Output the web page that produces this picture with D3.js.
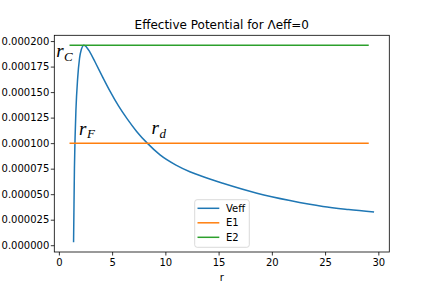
<html lang="en">
<head>
    <meta charset="UTF-8">
    <title>Effective Potential</title>
    <script src="https://d3js.org/d3.v7.min.js"></script>
    <style>
        body { margin: 0; background: #fff; }
        text { font-family: "DejaVu Sans", sans-serif; fill: #000; }
        .math { font-family: "Liberation Serif", serif; font-style: italic; }
    </style>
</head>
<body>
    <div id="chart"></div>
    <script>
        // values
        var r = [1.38, 1.42, 1.46, 1.52, 1.6, 1.76, 1.94, 2.1, 2.35, 2.6, 2.9, 3.4, 4.1, 4.8, 5.6, 6.4,
                 7.3, 8.3, 9.5, 11, 12.3, 13.3, 15.4, 18.6, 21.7, 24.8, 27.2, 29.6];
        var veff = [0.3e-5, 4.0e-5, 7.5e-5, 10.5e-5, 13.2e-5, 16.3e-5, 18.3e-5, 19.15e-5, 19.6e-5, 19.4e-5,
                    18.95e-5, 17.95e-5, 16.5e-5, 15.1e-5, 13.65e-5, 12.4e-5, 11.15e-5, 10.0e-5, 8.85e-5, 7.85e-5,
                    7.2e-5, 6.8e-5, 6.07e-5, 5.1e-5, 4.38e-5, 3.8e-5, 3.5e-5, 3.25e-5];
        var eR = [1.0, 29.1];
        var e1 = [0.0001, 0.0001];
        var e2 = [0.000196, 0.000196];
        var xTicks = [0, 5, 10, 15, 20, 25, 30];
        var yTicks = [0, 0.000025, 0.00005, 0.000075, 0.0001, 0.000125, 0.00015, 0.000175, 0.0002];
        var labels = [{main: "r", sub: "C", x: -0.25, y: 0.000184},
                      {main: "r", sub: "F", x: 1.9, y: 0.000108},
                      {main: "r", sub: "d", x: 8.7, y: 0.0001085}];

        var width = 432, height = 288;
        var padLeft = 54.3, padRight = 389.3, padTop = 35.3, padBottom = 252;
        var svg, x, y;

        function initChart(){
            svg = d3.select("#chart").append("svg")
                .attr("width", width)
                .attr("height", height);

            // 5% margins like matplotlib autoscale
            var allX = r.concat(eR), allY = veff.concat(e1, e2);
            var x0 = d3.min(allX), x1 = d3.max(allX), y0 = d3.min(allY), y1 = d3.max(allY);
            var dx = (x1 - x0) * 0.05, dy = (y1 - y0) * 0.05;
            x = d3.scaleLinear().domain([x0 - dx, x1 + dx]).range([padLeft, padRight]);
            y = d3.scaleLinear().domain([y0 - dy, y1 + dy]).range([padBottom, padTop]);
        }

        function drawAxes(){
            var xAxis = d3.axisBottom(x).tickValues(xTicks).tickSize(3.5).tickPadding(3.5);
            var yAxis = d3.axisLeft(y).tickValues(yTicks).tickSize(3.5).tickPadding(1.5)
                .tickFormat(d3.format(".6f"));

            var gx = svg.append("g").attr("transform", "translate(0," + padBottom + ")").call(xAxis);
            var gy = svg.append("g").attr("transform", "translate(" + padLeft + ",0)").call(yAxis);
            [gx, gy].forEach(function(g){
                g.select(".domain").remove();
                g.selectAll(".tick line").attr("stroke", "#000").attr("stroke-width", 0.8);
                g.selectAll(".tick text").attr("font-size", 10)
                    .attr("font-family", "DejaVu Sans").attr("fill", "#000");
            });

            svg.append("rect")
                .attr("x", padLeft).attr("y", padTop)
                .attr("width", padRight - padLeft).attr("height", padBottom - padTop)
                .attr("fill", "none").attr("stroke", "#000").attr("stroke-width", 0.8);

            svg.append("text")
                .attr("x", (padLeft + padRight) / 2).attr("y", 28.5)
                .attr("text-anchor", "middle").attr("font-size", 12)
                .text("Effective Potential for \u039beff=0");

            svg.append("text")
                .attr("x", (padLeft + padRight) / 2).attr("y", 281)
                .attr("text-anchor", "middle").attr("font-size", 10)
                .text("r");
        }

        function drawLine(xs, ys, color){
            var line = d3.line()
                .x(function(d){ return x(d[0]); })
                .y(function(d){ return y(d[1]); })
                .curve(d3.curveMonotoneX);
            svg.append("path")
                .datum(d3.zip(xs, ys))
                .attr("d", line)
                .attr("fill", "none")
                .attr("stroke", color)
                .attr("stroke-width", 1.5);
        }

        function drawLabels(){
            labels.forEach(function(l){
                var t = svg.append("text").attr("class", "math")
                    .attr("x", x(l.x)).attr("y", y(l.y))
                    .attr("font-size", 19);
                t.append("tspan").text(l.main);
                t.append("tspan").attr("font-size", 13).attr("dy", 3.5).attr("dx", 0.5).text(l.sub);
            });
        }

        function drawLegend(){
            var items = [["Veff", "#1f77b4"], ["E1", "#ff7f0e"], ["E2", "#2ca02c"]];
            var g = svg.append("g").attr("transform", "translate(194.7,199.7)");
            g.append("rect")
                .attr("width", 54.6).attr("height", 47.6).attr("rx", 2.5)
                .attr("fill", "#fff").attr("fill-opacity", 0.8)
                .attr("stroke", "#d0d0d0").attr("stroke-width", 0.8);
            items.forEach(function(it, i){
                var yy = 8.6 + i * 14.5;
                g.append("line")
                    .attr("x1", 2.8).attr("x2", 24.6).attr("y1", yy).attr("y2", yy)
                    .attr("stroke", it[1]).attr("stroke-width", 1.5);
                g.append("text")
                    .attr("x", 31.3).attr("y", yy + 3.6).attr("font-size", 10)
                    .text(it[0]);
            });
        }

        initChart();
        drawAxes();
        drawLine(r, veff, "#1f77b4");
        drawLine(eR, e1, "#ff7f0e");
        drawLine(eR, e2, "#2ca02c");
        drawLabels();
        drawLegend();
    </script>
</body>
</html>
